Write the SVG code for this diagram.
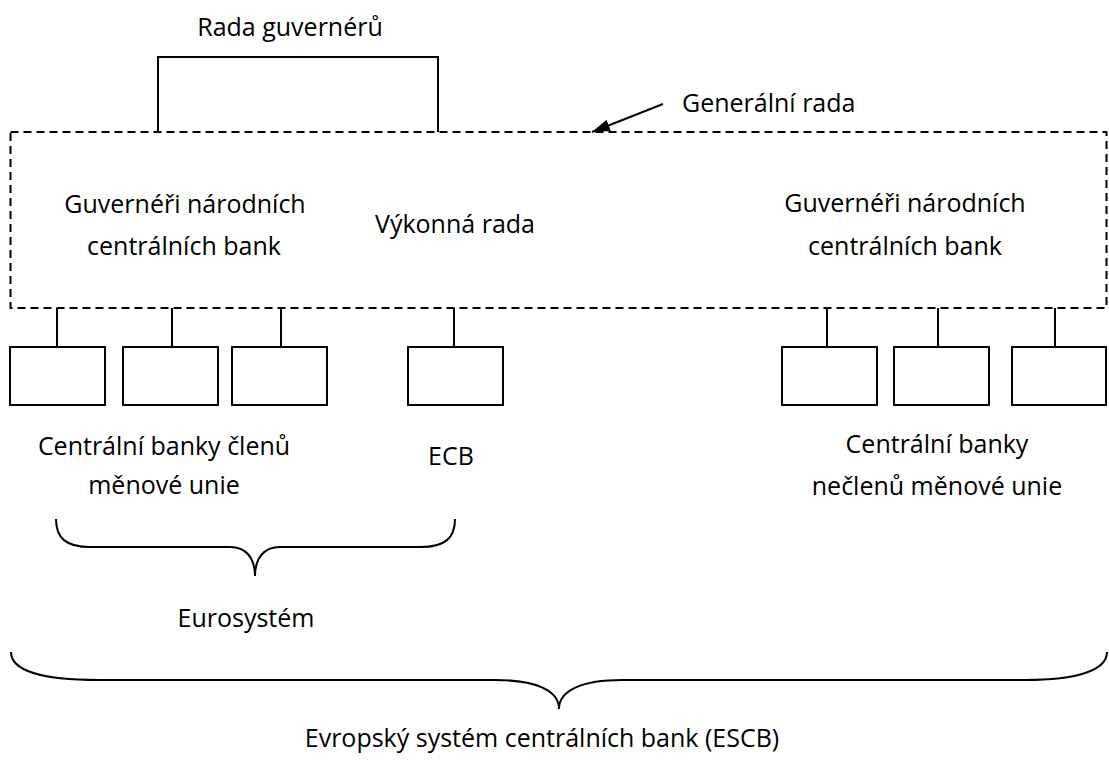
<svg xmlns="http://www.w3.org/2000/svg" width="1109" height="765" viewBox="0 0 1109 765">
  <style>
    text { font-family: "Open Sans", "Noto Sans", "Liberation Sans", sans-serif; font-size: 25px; fill: #000; }
    .c { text-anchor: middle; }
    .ln { fill: none; stroke: #000; stroke-width: 2; }
    .box { fill: #fff; stroke: #000; stroke-width: 2; }
    .dash { fill: none; stroke: #000; stroke-width: 2; stroke-dasharray: 8 5; }
  </style>
  <defs>
    <marker id="arr" viewBox="0 0 18 12" refX="18" refY="6" markerWidth="18" markerHeight="12" markerUnits="userSpaceOnUse" orient="auto">
      <path d="M0,0 L18,6 L0,12 Z" fill="#000"/>
    </marker>
  </defs>
  <rect width="1109" height="765" fill="#fff"/>

  <g id="general-council">
    <rect class="dash" x="10.5" y="132" width="1096" height="176"/>
  </g>

  <g id="connectors">
    <path class="ln" d="M158,132 V57 H438 V132"/>
    <line class="ln" x1="663" y1="104" x2="592" y2="132" marker-end="url(#arr)"/>
    <path class="ln" d="M57,308 V347 M172,308 V347 M281,308 V347 M454,308 V347 M827,308 V347 M938,308 V347 M1055,308 V347"/>
  </g>

  <g id="governing-council">
    <text class="c" x="290" y="36">Rada guvernérů</text>
  </g>
  <g id="general-council-label">
    <text x="682" y="112">Generální rada</text>
  </g>
  <g id="governors-euro">
    <text class="c" x="185" y="213">Guvernéři národních</text>
    <text class="c" x="184" y="255">centrálních bank</text>
  </g>
  <g id="executive-board">
    <text class="c" x="455" y="233">Výkonná rada</text>
  </g>
  <g id="governors-non-euro">
    <text class="c" x="905" y="212">Guvernéři národních</text>
    <text class="c" x="905" y="255">centrálních bank</text>
  </g>

  <g id="ncb-1"><rect class="box" x="10" y="347" width="95" height="58"/></g>
  <g id="ncb-2"><rect class="box" x="123" y="347" width="95" height="58"/></g>
  <g id="ncb-3"><rect class="box" x="232" y="347" width="95" height="58"/></g>
  <g id="ecb"><rect class="box" x="408" y="347" width="95" height="58"/></g>
  <g id="ncb-4"><rect class="box" x="782" y="347" width="95" height="58"/></g>
  <g id="ncb-5"><rect class="box" x="894" y="347" width="95" height="58"/></g>
  <g id="ncb-6"><rect class="box" x="1012" y="347" width="94" height="58"/></g>

  <g id="euro-members-label">
    <text class="c" x="164" y="455">Centrální banky členů</text>
    <text class="c" x="164" y="494">měnové unie</text>
  </g>
  <g id="ecb-label">
    <text class="c" x="451" y="465">ECB</text>
  </g>
  <g id="non-members-label">
    <text class="c" x="937" y="453">Centrální banky</text>
    <text class="c" x="937" y="495">nečlenů měnové unie</text>
  </g>

  <g id="eurosystem">
    <path class="ln" d="M56,519 C56,538 66,547 90,547 L230,547 C246,547 255,558 255,576 C255,558 264,547 280,547 L421,547 C445,547 455,538 455,519"/>
    <text class="c" x="246" y="627">Eurosystém</text>
  </g>

  <g id="escb">
    <path class="ln" d="M11,652 C11,670 40,680 99,680 L495,680 C535,680 559,690 559,709 C559,690 583,680 622,680 L1025,680 C1078,680 1107,670 1107,652"/>
    <text class="c" x="542" y="747">Evropský systém centrálních bank (ESCB)</text>
  </g>
</svg>
